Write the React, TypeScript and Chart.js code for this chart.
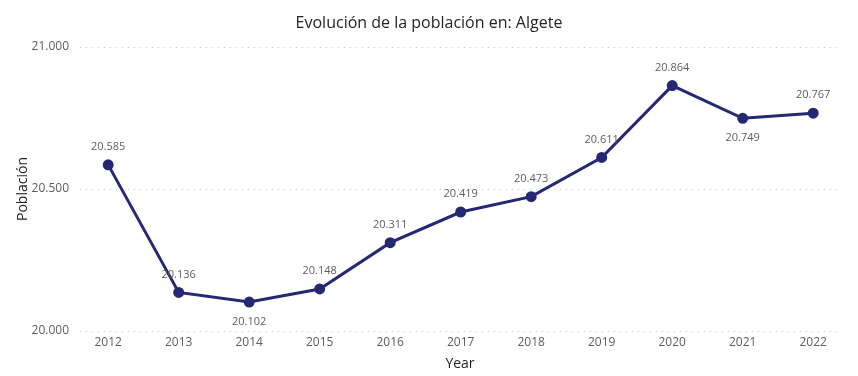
import React, { useEffect, useRef } from "react";
import { Chart, registerables } from "chart.js";

Chart.register(...registerables);

const years = [2012, 2013, 2014, 2015, 2016, 2017, 2018, 2019, 2020, 2021, 2022];
const population = [20585, 20136, 20102, 20148, 20311, 20419, 20473, 20611, 20864, 20749, 20767];
const yTicks = [20000, 20500, 21000];
const titleText = "Evolución de la población en: Algete";

const FONT = "'Segoe UI', 'Open Sans', 'Noto Sans', sans-serif";
const fmt = (v: number) => v.toLocaleString("de-DE");

const overlayPlugin = {
  id: "overlay",
  afterDatasetsDraw(chart: any) {
    const ctx = chart.ctx;
    const meta = chart.getDatasetMeta(0);
    ctx.save();
    ctx.font = `11px ${FONT}`;
    ctx.fillStyle = "#605E5C";
    ctx.textAlign = "center";
    ctx.textBaseline = "middle";
    meta.data.forEach((pt: any, i: number) => {
      const v = population[i];
      const prev = i > 0 ? population[i - 1] : Infinity;
      const next = i < population.length - 1 ? population[i + 1] : Infinity;
      const below = v < prev && v < next;
      ctx.fillText(fmt(v), pt.x, below ? pt.y + 20 : pt.y - 18);
    });
    ctx.font = `16px ${FONT}`;
    ctx.fillStyle = "#252423";
    ctx.fillText(titleText, chart.width / 2, 23);
    ctx.restore();
  },
};

export default function App() {
  const ref = useRef<HTMLCanvasElement>(null);
  useEffect(() => {
    document.body.style.margin = "0";
    const chart = new Chart(ref.current!, {
      type: "line",
      data: {
        datasets: [
          {
            data: years.map((y, i) => ({ x: y, y: population[i] })),
            borderColor: "#252872",
            backgroundColor: "#252872",
            borderWidth: 3,
            pointRadius: 4,
            pointHoverRadius: 4,
            tension: 0,
          },
        ],
      },
      options: {
        animation: false,
        responsive: false,
        layout: { padding: { top: 47, right: 18, left: 0, bottom: 0 } },
        plugins: { legend: { display: false }, title: { display: false }, tooltip: { enabled: false } },
        scales: {
          x: {
            type: "linear",
            min: 2011.6,
            max: 2022.38,
            afterBuildTicks: (axis: any) => {
              axis.ticks = years.map((v) => ({ value: v }));
            },
            afterFit: (axis: any) => {
              axis.height = 45;
            },
            grid: { display: false, drawTicks: false },
            border: { display: false },
            ticks: {
              padding: 4,
              color: "#605E5C",
              font: { size: 12, family: FONT },
              callback: (v: any) => String(v),
              autoSkip: false,
              maxRotation: 0,
            },
            title: {
              display: true,
              text: "Year",
              color: "#252423",
              font: { size: 14, family: FONT },
              padding: { top: 0, bottom: 4 },
            },
          },
          y: {
            min: 20000,
            max: 21000,
            afterBuildTicks: (axis: any) => {
              axis.ticks = yTicks.map((v) => ({ value: v }));
            },
            afterFit: (axis: any) => {
              axis.width = 80;
            },
            grid: { color: "#C8C6C4", lineWidth: 1, drawTicks: false },
            border: { display: false, dash: [1, 5] },
            ticks: {
              padding: 11,
              color: "#605E5C",
              font: { size: 12, family: FONT },
              callback: (v: any) => fmt(Number(v)),
            },
            title: {
              display: true,
              text: "Población",
              color: "#252423",
              font: { size: 14, family: FONT },
              padding: { top: 15, bottom: 0 },
            },
          },
        },
      } as any,
      plugins: [overlayPlugin],
    });
    return () => chart.destroy();
  }, []);
  return <canvas ref={ref} width={858} height={376} style={{ display: "block" }} />;
}
